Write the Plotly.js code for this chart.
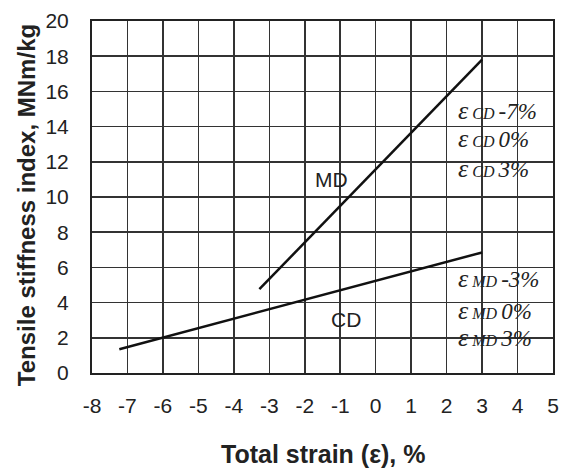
<!DOCTYPE html>
<html><head><meta charset="utf-8">
<script src="https://cdn.plot.ly/plotly-3.0.1.min.js"></script>
<style>html,body{margin:0;padding:0;background:#fff}#chart{width:561px;height:472px}</style>
</head><body><div id="chart"></div>
<script>
const mdX = [-3.28, 3.0];
const mdY = [4.76, 17.8];
const cdX = [-7.23, 3.0];
const cdY = [1.35, 6.85];
const xTicks = [-8,-7,-6,-5,-4,-3,-2,-1,0,1,2,3,4,5];
const yTicks = [0,2,4,6,8,10,12,14,16,18,20];
const cdStrains = ['-7%', '0%', '3%'];
const mdStrains = ['-3%', '0%', '3%'];

const traces = [
  {x: mdX, y: mdY, mode: 'lines', line: {color: '#111', width: 2.5}, hoverinfo: 'skip', showlegend: false},
  {x: cdX, y: cdY, mode: 'lines', line: {color: '#111', width: 2.5}, hoverinfo: 'skip', showlegend: false}
];

function epsLabel(sub, val) {
  return '<span style="font-size:26px">ε</span><span style="font-size:16px"> ' + sub + ' </span><span style="font-size:23px">' + val + '</span>';
}
const serif = {family: 'Liberation Serif, Times New Roman, serif', color: '#222', size: 16};
const sans = 'Liberation Sans, Arial, sans-serif';
const annotations = [];
const cdRowsY = [14.9, 13.3, 11.6];
const mdRowsY = [5.38, 3.56, 2.03];
cdStrains.forEach((v, i) => annotations.push({x: 2.27, y: cdRowsY[i], xref: 'x', yref: 'y', xanchor: 'left', yanchor: 'middle', showarrow: false, text: '<i>' + epsLabel('CD', v) + '</i>', font: serif}));
mdStrains.forEach((v, i) => annotations.push({x: 2.27, y: mdRowsY[i], xref: 'x', yref: 'y', xanchor: 'left', yanchor: 'middle', showarrow: false, text: '<i>' + epsLabel('MD', v) + '</i>', font: serif}));
annotations.push({x: -1.24, y: 11.0, xref: 'x', yref: 'y', showarrow: false, text: 'MD', font: {family: sans, size: 21, color: '#222'}});
annotations.push({x: -0.85, y: 3.05, xref: 'x', yref: 'y', showarrow: false, text: 'CD', font: {family: sans, size: 21, color: '#222'}});
// axis titles
annotations.push({x: 0.5, y: -0.231, xref: 'paper', yref: 'paper', xanchor: 'center', yanchor: 'middle', showarrow: false,
  text: '<b>Total strain (ε), %</b>', font: {family: sans, size: 25, color: '#222'}});
annotations.push({x: -0.143, y: 0.477, xref: 'paper', yref: 'paper', xanchor: 'center', yanchor: 'middle', showarrow: false, textangle: -90,
  text: '<b>Tensile stiffness index, MNm/kg</b>', font: {family: sans, size: 24, color: '#222'}});

const layout = {
  width: 561, height: 472,
  margin: {l: 92, r: 8, t: 21, b: 99},
  paper_bgcolor: '#fff', plot_bgcolor: '#fff',
  font: {family: sans, color: '#222', size: 21},
  xaxis: {
    range: [-8, 5], tickvals: xTicks, ticktext: xTicks.map(String),
    showgrid: true, gridcolor: '#333', gridwidth: 1.5, zeroline: false,
    showline: true, linecolor: '#222', linewidth: 2, mirror: true,
    ticks: '', ticklabelstandoff: 13, tickfont: {size: 21}
  },
  yaxis: {
    range: [0, 20], tickvals: yTicks, ticktext: yTicks.map(String),
    showgrid: true, gridcolor: '#333', gridwidth: 1.5, zeroline: false,
    showline: true, linecolor: '#222', linewidth: 2, mirror: true,
    ticks: '', ticklabelstandoff: 17, tickfont: {size: 21}
  },
  annotations: annotations
};
Plotly.newPlot('chart', traces, layout, {staticPlot: true, displayModeBar: false});
</script></body></html>
